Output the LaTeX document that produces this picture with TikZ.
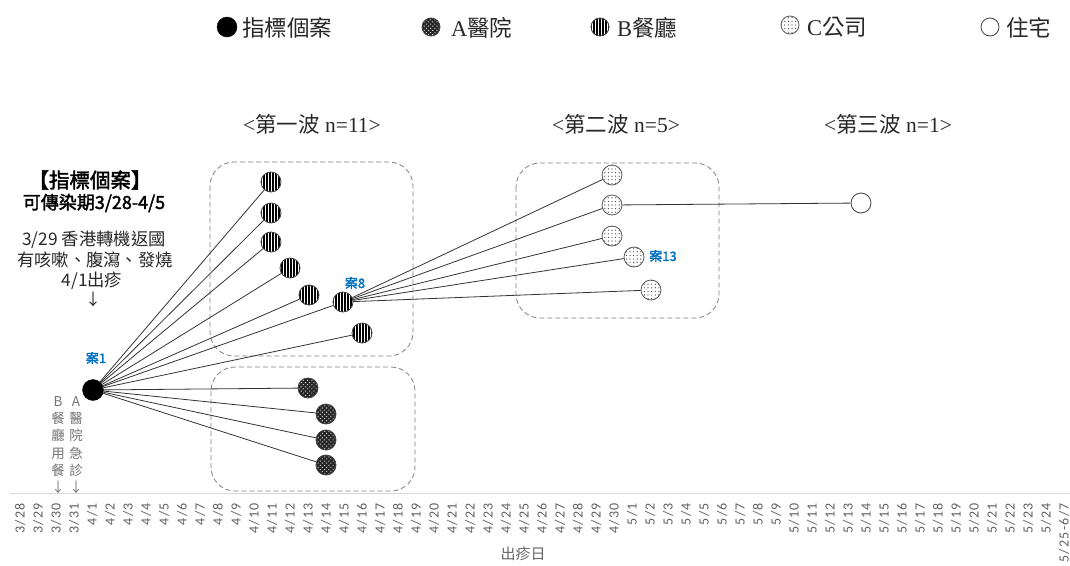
\documentclass[tikz,border=0pt]{standalone}
\usepackage{fontspec}
\setmainfont{Liberation Serif}
\newfontfamily\cjk[AutoFakeBold=2]{Noto Sans CJK TC}
\newfontfamily\carlitofont[LetterSpace=9]{Carlito}
\usetikzlibrary{patterns.meta}
\definecolor{caseblue}{RGB}{0,112,192}
\definecolor{txt}{RGB}{40,40,40}
\begin{document}
\begin{tikzpicture}[x=1pt,y=-1pt,
  every node/.style={inner sep=0pt},
  idx/.style={circle, minimum size=21pt, fill=black, draw=black},
  hosp/.style={circle, minimum size=20pt, draw=black!75, line width=0.8pt, preaction={fill=black!85}, pattern={Dots[distance=3pt,radius=0.75pt,angle=45]}, pattern color=white!80!black},
  rest/.style={circle, minimum size=20pt, draw=black!75, line width=0.8pt, preaction={fill=white}, pattern={Lines[angle=90,distance=3pt,line width=1.3pt]}, pattern color=black},
  comp/.style={circle, minimum size=20pt, draw=black!65, line width=0.8pt, preaction={fill=white}, pattern={Dots[distance=3.6pt,radius=0.6pt]}, pattern color=black!80},
  home/.style={circle, minimum size=20pt, draw=black!75, line width=0.8pt, fill=white},
  link/.style={draw=black!80, line width=0.8pt},
  grp/.style={draw=black!50, dash pattern=on 5pt off 3pt, rounded corners=24pt, line width=0.8pt},
  caselbl/.style={text=caseblue, font=\cjk\bfseries\fontsize{13}{13}\selectfont},
  legtxt/.style={anchor=west, text=txt, font=\fontsize{22.5}{22.5}\selectfont},
  wave/.style={text=txt, font=\fontsize{21.5}{21.5}\selectfont},
  datelbl/.style={rotate=90, anchor=east, text=black!62, font=\carlitofont\fontsize{14}{14}\selectfont},
  vtxt/.style={align=center, text=black!55, font=\cjk\fontsize{13.5}{17.3}\selectfont}
]
\useasboundingbox (0,0) rectangle (1070,565);

% legend
\node[idx, minimum size=20pt] (l1) at (227,27) {};
\node[legtxt] (l1t) at (242,28) {\cjk 指標個案};
\node[hosp, minimum size=18pt] (l2) at (431,27) {};
\node[legtxt] (l2t) at (451,28) {A{\cjk 醫院}};
\node[rest, minimum size=18pt] (l3) at (600,27) {};
\node[legtxt] (l3t) at (617,28) {B{\cjk 餐廳}};
\node[comp, minimum size=18pt] (l4) at (790,25) {};
\node[legtxt] (l4t) at (807,27) {C{\cjk 公司}};
\node[home, minimum size=18pt] (l5) at (990,27) {};
\node[legtxt] (l5t) at (1006,28) {\cjk 住宅};

% wave titles
\node[wave] (w1) at (312,124) {<{\cjk 第一波} n=11>};
\node[wave] (w2) at (616,124) {<{\cjk 第二波} n=5>};
\node[wave] (w3) at (888,124) {<{\cjk 第三波} n=1>};

% index case notes
\node[text=black, font=\cjk\bfseries\fontsize{20.5}{20.5}\selectfont] (n1) at (90,180) {【指標個案】};
\node[text=black, font=\cjk\bfseries\fontsize{18}{18}\selectfont] (n2) at (94,203) {可傳染期3/28-4/5};
\node[text=txt, font=\cjk\fontsize{17.3}{17.3}\selectfont] (n3) at (94,240) {3/29 香港轉機返國};
\node[text=txt, font=\cjk\fontsize{17.3}{17.3}\selectfont] (n4) at (95,260) {有咳嗽、腹瀉、發燒};
\node[text=txt, font=\cjk\fontsize{17.3}{17.3}\selectfont] (n5) at (92,281) {4/1出疹};
\node[text=txt, font=\cjk\fontsize{16}{16}\selectfont] (n6) at (93,299) {↓};

% vertical notes
\node[vtxt] (vb) at (58,445) {B\\餐\\廳\\用\\餐\\↓};
\node[vtxt] (va) at (76,445) {A\\醫\\院\\急\\診\\↓};

% groups
\draw[grp] (210,162) rectangle (413,356);
\draw[grp] (211,367) rectangle (415,491);
\draw[grp] (516,163) rectangle (719,318);

% axis
\coordinate (axl) at (10,493);
\coordinate (axr) at (1070,493);
\draw[black!15, line width=1pt] (axl) -- (axr);
\foreach \d [count=\i from 0] in {3/28,3/29,3/30,3/31,4/1,4/2,4/3,4/4,4/5,4/6,4/7,4/8,4/9,4/10,4/11,4/12,4/13,4/14,4/15,4/16,4/17,4/18,4/19,4/20,4/21,4/22,4/23,4/24,4/25,4/26,4/27,4/28,4/29,4/30,5/1,5/2,5/3,5/4,5/5,5/6,5/7,5/8,5/9,5/10,5/11,5/12,5/13,5/14,5/15,5/16,5/17,5/18,5/19,5/20,5/21,5/22,5/23,5/24,5/25-6/7}
  \node[datelbl] (d\i) at ({20+18*\i},503) {\d};
\node[text=black!60, font=\cjk\fontsize{15}{15}\selectfont] (xl) at (523,554) {出疹日};

% cases
\node[idx] (c1) at (93,390) {};
\node[caselbl] (c1l) at (96,358) {案1};

\node[rest] (b1) at (271,182) {};
\node[rest] (b2) at (271,213) {};
\node[rest] (b3) at (271,242) {};
\node[rest] (b4) at (290,268) {};
\node[rest] (b5) at (309,295) {};
\node[rest] (b7) at (362,333) {};

\node[hosp] (a1) at (308,388) {};
\node[hosp] (a2) at (326,414) {};
\node[hosp] (a3) at (326,440) {};
\node[hosp] (a4) at (326,465) {};

\node[comp] (k1) at (612,175) {};
\node[comp] (k2) at (612,205) {};
\node[comp] (k3) at (612,236) {};
\node[comp] (k4) at (634,257) {};
\node[comp] (k5) at (651,290) {};
\node[caselbl] (k4l) at (663,256) {案13};

\node[home] (h1) at (861,203) {};

\foreach \t in {b1,b2,b3,b4,b5,b7,a1,a2,a3,a4}
  \draw[link] (c1) -- (\t);
\node[rest] (b6) at (343,302) {};
\draw[link] (c1) -- (b6);
\node[caselbl] (b6l) at (355,283) {案8};
\foreach \t in {k1,k2,k3,k4,k5}
  \draw[link] (b6) -- (\t);
\draw[link] (k2) -- (h1);
\end{tikzpicture}
\end{document}
